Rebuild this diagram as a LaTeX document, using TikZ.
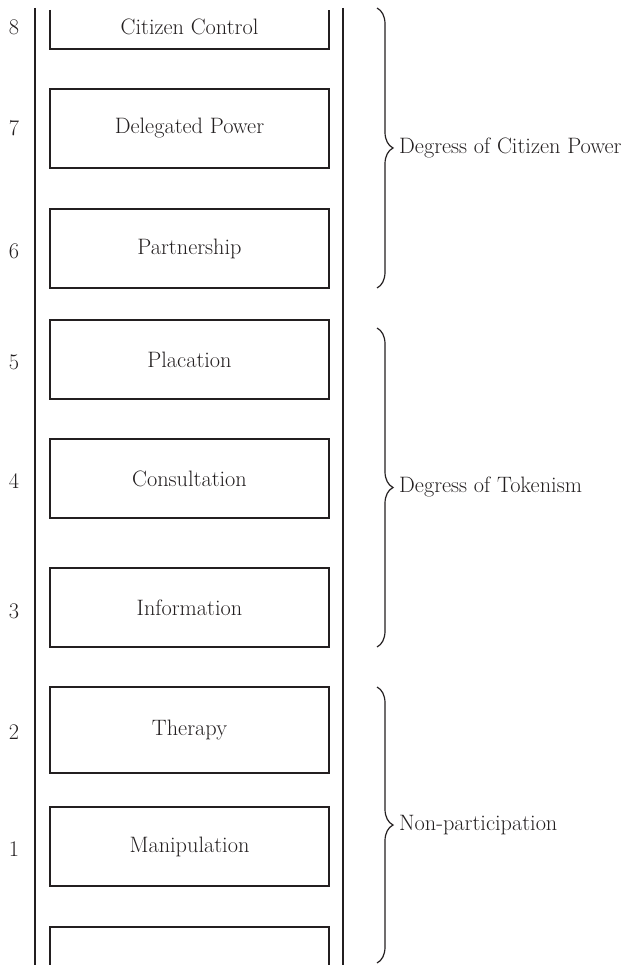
\documentclass[tikz,border=0pt]{standalone}
\usetikzlibrary{decorations.pathreplacing}
\definecolor{ink}{HTML}{231F20}
\newcommand{\ladderfont}{\fontsize{22.3}{26}\selectfont}
\begin{document}
\begin{tikzpicture}[x=1pt,y=-1pt,
  rail/.style={draw=ink,line width=1.2pt},
  rungline/.style={draw=ink,line width=1.5pt},
  rung/.style={rungline,minimum width=279pt,inner sep=0pt,font=\ladderfont,text=ink},
  rungtext/.style={font=\ladderfont,text=ink,inner sep=0pt},
  lvl/.style={font=\ladderfont,text=ink,inner sep=0pt},
  grp/.style={draw=ink,line width=1.2pt,decorate,decoration={brace,amplitude=16pt}},
  grplabel/.style={font=\ladderfont,text=ink,anchor=west,inner sep=0pt}]
\useasboundingbox (0,0) rectangle (625,965);

% the two rails of the ladder
\coordinate (lt) at (35,8);   \coordinate (lb) at (35,965);
\coordinate (rt) at (343,8);  \coordinate (rb) at (343,965);
\draw[rail] (lt) -- (lb);
\draw[rail] (rt) -- (rb);

% top rung, open at the top
\draw[rungline] (50,10) |- (329,49) -- (329,10);
\node[rungtext] (r8) at (189.5,27) {Citizen Control};

% full rungs
\node[rung,minimum height=79pt] (r7) at (189.5,128.5) {Delegated Power};
\node[rung,minimum height=79pt] (r6) at (189.5,248.5) {Partnership};
\node[rung,minimum height=79pt] (r5) at (189.5,359.5) {Placation};
\node[rung,minimum height=79pt] (r4) at (189.5,478.5) {Consultation};
\node[rung,minimum height=79pt] (r3) at (189.5,607.5) {Information};
\node[rung,minimum height=86pt] (r2) at (189.5,730) {Therapy};
\node[rung,minimum height=79pt] (r1) at (189.5,846.5) {Manipulation};

% bottom rung, open at the bottom
\draw[rungline] (50,965) |- (329,927) -- (329,965);

% level numbers
\node[lvl] (n8) at (14,27)  {8};
\node[lvl] (n7) at (14,128) {7};
\node[lvl] (n6) at (14,251) {6};
\node[lvl] (n5) at (14,362) {5};
\node[lvl] (n4) at (14,481) {4};
\node[lvl] (n3) at (14,611) {3};
\node[lvl] (n2) at (14,732) {2};
\node[lvl] (n1) at (14,849) {1};

% groupings
\coordinate (g1t) at (377,8);   \coordinate (g1b) at (377,288);
\coordinate (g2t) at (377,328); \coordinate (g2b) at (377,647);
\coordinate (g3t) at (377,687); \coordinate (g3b) at (377,963);
\draw[grp] (g1t) -- (g1b);
\draw[grp] (g2t) -- (g2b);
\draw[grp] (g3t) -- (g3b);
\node[grplabel] (l1) at (399,148) {Degress of Citizen Power};
\node[grplabel] (l2) at (399,487) {Degress of Tokenism};
\node[grplabel] (l3) at (399,825) {Non-participation};
\end{tikzpicture}
\end{document}
